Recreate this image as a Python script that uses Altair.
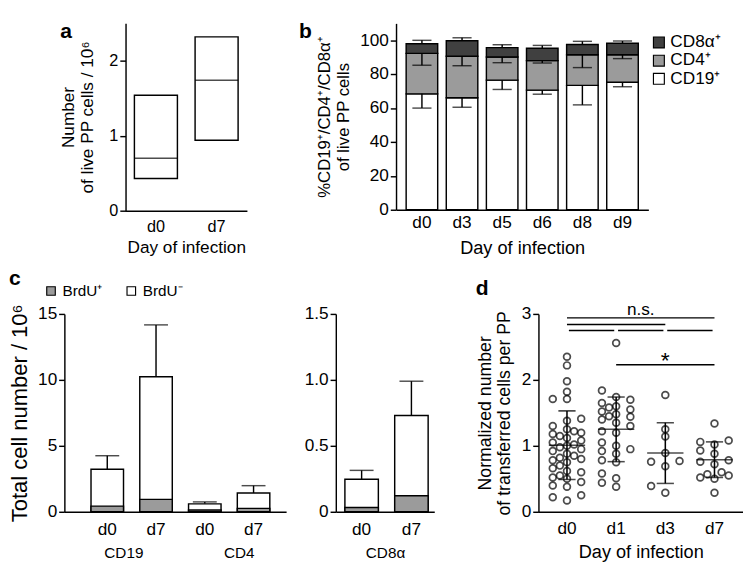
import altair as alt
import pandas as pd

FONT = "Liberation Sans"
DARK = "#404040"
MID = "#9b9b9b"

# ---------------- panel a ----------------
a_days = ["d0", "d7"]
a_low = [0.43, 0.94]
a_median = [0.70, 1.74]
a_high = [1.54, 2.32]

# ---------------- panel b ----------------
b_days = ["d0", "d3", "d5", "d6", "d8", "d9"]
b_cd19 = [68.4, 66.1, 76.5, 70.6, 73.4, 75.3]
b_cd4 = [23.9, 24.5, 13.7, 17.4, 18.1, 16.2]
b_cd8 = [5.7, 9.2, 5.5, 7.3, 6.0, 6.8]
b_cd19_err = [8.4, 5.6, 5.5, 2.4, 11.5, 2.7]
b_cd4_err = [7.0, 5.6, 3.4, 1.4, 7.6, 2.3]
b_cd8_err = [2.0, 1.7, 1.7, 1.7, 1.9, 1.3]
b_series = ["CD8α⁺", "CD4⁺", "CD19⁺"]

# ---------------- panel c ----------------
c_cells = ["CD19", "CD19", "CD4", "CD4"]
c_days = ["d0", "d7", "d0", "d7"]
c_total = [3.23, 10.24, 0.60, 1.42]
c_brdu = [0.43, 0.94, 0.14, 0.26]
c_err = [1.02, 3.93, 0.15, 0.56]
c8_days = ["d0", "d7"]
c8_total = [0.246, 0.73]
c8_brdu = [0.032, 0.121]
c8_err = [0.068, 0.26]
c_series = ["BrdU⁺", "BrdU⁻"]

# ---------------- panel d ----------------
d_days = ["d0", "d1", "d3", "d7"]
d0_vals = [2.35, 2.22, 1.98, 1.82, 1.71, 1.71, 1.41, 1.38, 1.30, 1.25, 1.22,
           1.20, 1.18, 1.15, 1.12, 1.08, 1.05, 1.02, 1.00, 0.98, 0.95, 0.92,
           0.88, 0.85, 0.82, 0.80, 0.78, 0.75, 0.70, 0.66, 0.62, 0.60, 0.55,
           0.52, 0.50, 0.45, 0.40, 0.38, 0.25, 0.17, 0.22]
d1_vals = [2.56, 1.84, 1.74, 1.70, 1.65, 1.60, 1.58, 1.55, 1.52, 1.48, 1.45,
           1.44, 1.40, 1.35, 1.30, 1.22, 1.20, 1.05, 1.00, 0.95, 0.92, 0.88,
           0.78, 0.75, 0.58, 0.51, 0.44, 0.38]
d3_vals = [1.77, 1.25, 1.14, 0.89, 0.76, 0.77, 0.69, 0.39, 0.29]
d7_vals = [1.34, 1.08, 1.06, 1.02, 0.93, 0.88, 0.78, 0.76, 0.72, 0.60, 0.57,
           0.55, 0.52, 0.50, 0.29]
d_mean = [1.01, 1.25, 0.89, 0.79]
d_sd = [0.52, 0.49, 0.46, 0.27]
sig_from = ["d0", "d0", "d0", "d1", "d3", "d1"]
sig_to = ["d7", "d3", "d1", "d3", "d7", "d7"]
sig_level = [2.94, 2.84, 2.75, 2.75, 2.75, 2.23]


def title(letter, dx=0, offset=-20):
    return alt.TitleParams(letter, anchor="start", frame="bounds", dx=dx,
                           offset=offset, font=FONT, fontSize=22,
                           fontWeight="bold", color="black")


def spacer(w):
    return (alt.Chart(pd.DataFrame({"s": [0]}))
            .mark_point(opacity=0, size=0)
            .encode(x=alt.value(0), y=alt.value(0))
            .properties(width=w, height=1))


# ================= panel a =================
df_a = pd.DataFrame({"day": a_days, "low": a_low, "median": a_median, "high": a_high})
sa = alt.Scale(type="band", domain=a_days, paddingInner=0.29, paddingOuter=0.145)
xa = alt.X("day:N", title="Day of infection", scale=sa,
           axis=alt.Axis(labelAngle=0, ticks=False, labelPadding=9,
                         labelFontSize=17, titleFontSize=18, titlePadding=5))
ya_axis = alt.Axis(values=[0, 1, 2], format="d", labelFontSize=17, titleFontSize=18,
                   labelOverlap=False,
                   title=["Number", "of live PP cells / 10⁶"], titlePadding=13)
ya_scale = alt.Scale(domain=[0, 2.5], nice=False)
a_box = alt.Chart(df_a).mark_bar(fill="white", stroke="black", strokeWidth=1.5,
                                 width=45).encode(
    x=xa, y=alt.Y("low:Q", scale=ya_scale, axis=ya_axis), y2="high:Q")
a_med = alt.Chart(df_a).mark_tick(color="black", size=45, thickness=1.5).encode(
    x=xa, y=alt.Y("median:Q", scale=ya_scale, axis=ya_axis))
panel_a = alt.layer(a_box, a_med).properties(width=127, height=196,
                                             title=title("a", offset=-20))

# ================= panel b =================
rows = []
for i, d in enumerate(b_days):
    t1 = b_cd19[i]
    t2 = t1 + b_cd4[i]
    t3 = t2 + b_cd8[i]
    rows.append(dict(day=d, series=b_series[2], lo=0, hi=t1, err=t1 - b_cd19_err[i]))
    rows.append(dict(day=d, series=b_series[1], lo=t1, hi=t2, err=t2 - b_cd4_err[i]))
    rows.append(dict(day=d, series=b_series[0], lo=t2, hi=t3, err=t3 + b_cd8_err[i]))
df_b = pd.DataFrame(rows)
sb = alt.Scale(type="band", domain=b_days, paddingInner=0.21, paddingOuter=0.25)
xb = alt.X("day:N", title="Day of infection", scale=sb,
           axis=alt.Axis(labelAngle=0, ticks=False, labelPadding=5, titlePadding=8))
yb_scale = alt.Scale(domain=[0, 110], nice=False)
yb_axis = alt.Axis(values=[0, 20, 40, 60, 80, 100], titlePadding=8, labelOverlap=False,
                   titleFontSize=17.5,
                   title=["%CD19⁺/CD4⁺/CD8α⁺", "of live PP cells"])
b_err = alt.Chart(df_b).mark_rule(color="black", strokeWidth=1.5).encode(
    x=xb, y=alt.Y("hi:Q", scale=yb_scale, axis=yb_axis), y2="err:Q")
b_bar = alt.Chart(df_b).mark_bar(stroke="black", strokeWidth=1.5, width=33).encode(
    x=xb, y=alt.Y("lo:Q", scale=yb_scale, axis=yb_axis), y2="hi:Q",
    fill=alt.Fill("series:N", scale=alt.Scale(domain=b_series, range=[DARK, MID, "white"]),
                  legend=alt.Legend(title=None, orient="none", legendX=266, legendY=11,
                                    direction="vertical",
                                    symbolType="square", symbolSize=130,
                                    symbolStrokeColor="black", symbolStrokeWidth=1.2,
                                    labelFontSize=18, rowPadding=1, labelOffset=3)))
b_cap = alt.Chart(df_b).mark_tick(color="black", size=20, thickness=1.5).encode(
    x=xb, y=alt.Y("err:Q", scale=yb_scale, axis=yb_axis))
panel_b = alt.layer(b_bar, b_err, b_cap).properties(width=264, height=195,
                                                    title=title("b", dx=-18, offset=-20))

# ================= panel c =================
def c_panel(cells, days, total, brdu, err, ymax, yvals, ytitle, keys_grp, width, barw,
            pad_in, pad_out, align, grp_scale, show_legend, ptitle):
    keys = [c + "|" + d for c, d in zip(cells, days)]
    df_t = pd.DataFrame({"key": keys, "v": total, "kind": c_series[1],
                         "err": [t + e for t, e in zip(total, err)]})
    df_p = pd.DataFrame({"key": keys, "v": brdu, "kind": c_series[0]})
    sc = alt.Scale(type="band", domain=keys, paddingInner=pad_in, paddingOuter=pad_out,
                   align=align)
    xc = alt.X("key:N", title=None, scale=sc,
               axis=alt.Axis(labelAngle=0, ticks=False, labelPadding=10,
                             labelExpr="split(datum.value, '|')[1]"))
    yaxis = alt.Axis(values=yvals, title=ytitle, titleFontSize=23, titlePadding=7,
                     labelOverlap=False,
                     labelExpr="datum.value == 0 ? '0' : (datum.value < 2 ? format(datum.value, '.1f') : format(datum.value, 'd'))")
    ysc = alt.Scale(domain=[0, ymax], nice=False)
    leg = (alt.Legend(title=None, orient="none", legendX=-22, legendY=-32,
                      direction="horizontal", symbolType="square", symbolSize=80,
                      symbolStrokeColor="black", symbolStrokeWidth=1.2,
                      labelFontSize=16, columnPadding=22, labelOffset=4)
           if show_legend else None)
    fill = alt.Fill("kind:N", scale=alt.Scale(domain=c_series, range=[MID, "white"]),
                    legend=leg)
    err_rule = alt.Chart(df_t).mark_rule(color="black", strokeWidth=1.5).encode(
        x=xc, y=alt.Y("v:Q", scale=ysc, axis=yaxis), y2="err:Q")
    cap = alt.Chart(df_t).mark_tick(color="black", size=25, thickness=1.5).encode(
        x=xc, y=alt.Y("err:Q", scale=ysc, axis=yaxis))
    tot = alt.Chart(df_t).mark_bar(stroke="black", strokeWidth=1.5, width=barw).encode(
        x=xc, y=alt.Y("v:Q", scale=ysc, axis=yaxis), fill=fill)
    pos = alt.Chart(df_p).mark_bar(stroke="black", strokeWidth=1.5, width=barw).encode(
        x=xc, y=alt.Y("v:Q", scale=ysc, axis=yaxis), fill=fill)
    bars = alt.layer(err_rule, cap, tot, pos)
    df_g = pd.DataFrame({"grp": keys_grp})
    grp = alt.Chart(df_g).mark_point(opacity=0, size=0).encode(
        x=alt.X("grp:N", title=None, scale=grp_scale,
                axis=alt.Axis(orient="bottom", offset=33, domain=False, ticks=False,
                              labelFontSize=16, labelAngle=0, labelPadding=2)))
    ch = alt.layer(bars, grp).resolve_scale(x="independent").properties(
        width=width, height=207)
    if ptitle:
        ch = ch.properties(title=ptitle)
    return ch


panel_c1 = c_panel(c_cells, c_days, c_total, c_brdu, c_err, 15, [0, 5, 10, 15],
                   "Total cell number / 10⁶", ["CD19", "CD4"], 232, 34,
                   0.333, 0.44, 0.62,
                   alt.Scale(type="point", domain=["CD19", "CD4"], padding=0.46, align=0.555),
                   True, title("c", offset=-7))
panel_c2 = c_panel(["CD8α", "CD8α"], c8_days, c8_total, c8_brdu, c8_err, 1.5,
                   [0, 0.5, 1.0, 1.5], None, ["CD8α"], 103, 35,
                   0.317, 0.147, 0.6,
                   alt.Scale(type="point", domain=["CD8α"], padding=0.5), False, None)

# ================= panel d =================
def swarm(vals, gap=0.11):
    order = sorted(range(len(vals)), key=lambda i: vals[i])
    cand = [0, -2, 2, -1, 1]
    last = {c: -99.0 for c in cand}
    cols = [0] * len(vals)
    for i in order:
        v = vals[i]
        pick = None
        for c in cand:
            if v - last[c] >= gap:
                pick = c
                break
        if pick is None:
            pick = min(cand, key=lambda c: last[c])
        cols[i] = pick
        last[pick] = v
    return cols


pts = []
for d, vals in zip(d_days, [d0_vals, d1_vals, d3_vals, d7_vals]):
    for v, c in zip(vals, swarm(vals)):
        pts.append(dict(day=d, v=v, col=c))
df_pts = pd.DataFrame(pts)
df_ms = pd.DataFrame({"day": d_days, "mean": d_mean,
                      "lo": [m - s for m, s in zip(d_mean, d_sd)],
                      "hi": [m + s for m, s in zip(d_mean, d_sd)]})
df_sig = pd.DataFrame({"a": sig_from, "b": sig_to, "y": sig_level})
xs = alt.Scale(type="band", domain=d_days, paddingInner=0, paddingOuter=0.08)
xd = alt.X("day:N", scale=xs, title="Day of infection",
           axis=alt.Axis(labelAngle=0, ticks=False, labelPadding=9, titlePadding=6))
yd_scale = alt.Scale(domain=[0, 3], nice=False)
yd_axis = alt.Axis(values=[0, 1, 2, 3], format="d", titlePadding=8, labelOverlap=False,
                   titleFontSize=18.5,
                   title=["Normalized number", "of transferred cells per PP"])
d_pts = alt.Chart(df_pts).mark_point(shape="circle", filled=False, color="black",
                                     size=50, strokeWidth=1.8).encode(
    x=xd, y=alt.Y("v:Q", scale=yd_scale, axis=yd_axis),
    xOffset=alt.XOffset("col:O", scale=alt.Scale(domain=[-3, -2, -1, 0, 1, 2, 3],
                                                 paddingOuter=0.46)))
d_sdrule = alt.Chart(df_ms).mark_rule(color="black", strokeWidth=1.6).encode(
    x=xd, y=alt.Y("lo:Q", scale=yd_scale, axis=yd_axis), y2="hi:Q")
d_caps = alt.Chart(df_ms).transform_fold(["lo", "hi"], as_=["k", "val"]).mark_tick(
    color="black", size=18, thickness=1.6).encode(
    x=xd, y=alt.Y("val:Q", scale=yd_scale, axis=yd_axis))
d_meant = alt.Chart(df_ms).mark_tick(color="black", size=38, thickness=1.6).encode(
    x=xd, y=alt.Y("mean:Q", scale=yd_scale, axis=yd_axis))
top_sig = df_sig.iloc[[0, 1, 5]]
row_sig = df_sig.iloc[[2, 3, 4]]
d_sig1 = alt.Chart(top_sig).mark_rule(color="black", strokeWidth=1.5).encode(
    x=alt.X("a:N", scale=xs, bandPosition=0.5), x2=alt.X2("b:N", bandPosition=0.5),
    y=alt.Y("y:Q", scale=yd_scale, axis=yd_axis))
d_sig2 = alt.Chart(row_sig).mark_rule(color="black", strokeWidth=1.5, xOffset=2,
                                      x2Offset=-2).encode(
    x=alt.X("a:N", scale=xs, bandPosition=0.5), x2=alt.X2("b:N", bandPosition=0.5),
    y=alt.Y("y:Q", scale=yd_scale, axis=yd_axis))
df_txt = pd.DataFrame({"pos": ["d1", "d3"], "y": [2.99, 2.26], "t": ["n.s.", "*"]})
d_ns = alt.Chart(df_txt.iloc[[0]]).mark_text(font=FONT, fontSize=18, baseline="alphabetic",
                                             color="black").encode(
    x=alt.X("pos:N", scale=xs, bandPosition=1),
    y=alt.Y("y:Q", scale=yd_scale, axis=yd_axis), text="t:N")
d_star = alt.Chart(df_txt.iloc[[1]]).mark_text(font=FONT, fontSize=24, baseline="alphabetic",
                                               dy=6, color="black").encode(
    x=alt.X("pos:N", scale=xs, bandPosition=0.5),
    y=alt.Y("y:Q", scale=yd_scale, axis=yd_axis), text="t:N")
panel_d = alt.layer(d_pts, d_sdrule, d_caps, d_meant, d_sig1, d_sig2, d_ns, d_star).properties(
    width=214, height=207, title=title("d", offset=1))

row1 = alt.hconcat(spacer(19), panel_a, spacer(66), panel_b, spacing=45,
                   bounds="flush").resolve_scale(fill="independent")
row2 = alt.hconcat(panel_c1, panel_c2, spacer(5), panel_d, spacing=52,
                   bounds="flush").resolve_scale(fill="independent")
chart = alt.vconcat(row1, row2, spacing=11).resolve_scale(fill="independent").properties(padding=0)
chart = (chart.configure_view(stroke=None)
         .configure_axis(domainColor="black", domainWidth=1.5, tickColor="black",
                         tickWidth=1.5, tickSize=6, labelColor="black", titleColor="black",
                         labelFont=FONT, titleFont=FONT, labelFontSize=18, titleFontSize=19,
                         titleFontWeight="normal", grid=False, labelOverlap=False)
         .configure_legend(labelFont=FONT, labelColor="black"))
chart.save("out.html", embed_options={"renderer": "svg", "actions": False})
